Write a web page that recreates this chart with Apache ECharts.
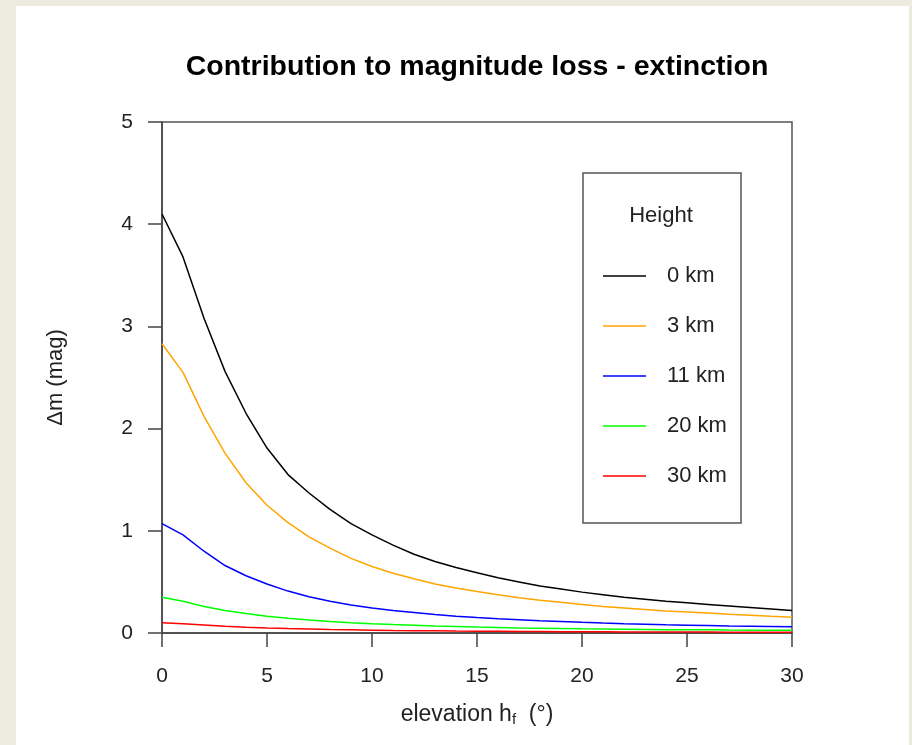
<!DOCTYPE html>
<html>
<head>
<meta charset="utf-8">
<script src="https://cdn.jsdelivr.net/npm/echarts@6/dist/echarts.min.js"></script>
<style>
html,body{margin:0;padding:0;background:#edeae0;width:912px;height:745px;overflow:hidden;}
#panel{position:absolute;left:16px;top:6px;width:893px;height:739px;background:#ffffff;}
#chart{position:absolute;left:0;top:0;width:912px;height:745px;}
</style>
</head>
<body>
<div id="panel"></div>
<div id="chart"></div>
<script>
// elevation (degrees)
const elevation = [0,1,2,3,4,5,6,7,8,9,10,11,12,13,14,15,16,17,18,19,20,21,22,23,24,25,26,27,28,29,30];
const seriesNames = ['0 km','3 km','11 km','20 km','30 km'];
const h0km = [4.10,3.68,3.08,2.56,2.15,1.81,1.55,1.37,1.21,1.07,0.96,0.86,0.77,0.70,0.64,0.59,0.54,0.50,0.46,0.43,0.40,0.375,0.35,0.33,0.31,0.295,0.28,0.265,0.25,0.235,0.22];
const h3km = [2.83,2.55,2.12,1.76,1.47,1.25,1.08,0.94,0.83,0.73,0.65,0.585,0.53,0.48,0.44,0.405,0.375,0.345,0.32,0.30,0.28,0.26,0.245,0.23,0.215,0.205,0.195,0.183,0.173,0.163,0.155];
const h11km = [1.07,0.96,0.80,0.66,0.56,0.48,0.41,0.355,0.31,0.275,0.245,0.22,0.20,0.18,0.165,0.152,0.14,0.13,0.12,0.112,0.104,0.097,0.091,0.086,0.081,0.077,0.073,0.069,0.066,0.063,0.06];
const h20km = [0.35,0.31,0.26,0.22,0.19,0.165,0.145,0.128,0.113,0.10,0.09,0.082,0.075,0.068,0.063,0.058,0.054,0.05,0.047,0.044,0.041,0.039,0.037,0.035,0.033,0.032,0.031,0.029,0.028,0.027,0.026];
const h30km = [0.10,0.09,0.078,0.066,0.057,0.05,0.044,0.039,0.034,0.031,0.028,0.025,0.023,0.021,0.019,0.018,0.017,0.015,0.014,0.013,0.012,0.0115,0.011,0.0105,0.01,0.0095,0.009,0.0085,0.008,0.0075,0.007];
const xTicks = [0,5,10,15,20,25,30];
const yTicks = [0,1,2,3,4,5];

const colors = ['#000000','#ffa500','#0000ff','#00ff00','#ff0000'];
const allValues = [h0km,h3km,h11km,h20km,h30km];
const FONT = '"Liberation Sans", Arial, Helvetica, sans-serif';

const chart = echarts.init(document.getElementById('chart'), null, {renderer:'canvas'});
const series = seriesNames.map((name,i)=>({
  name: name,
  type: 'line',
  data: elevation.map((x,j)=>[x, allValues[i][j]]),
  symbol: 'none',
  smooth: false,
  lineStyle: {color: colors[i], width: 1.5},
  itemStyle: {color: colors[i]},
  emphasis: {disabled: true},
  animation: false
}));

chart.setOption({
  backgroundColor: 'transparent',
  animation: false,
  title: {
    text: 'Contribution to magnitude loss - extinction',
    left: 472, top: 48, textAlign: 'center',
    textStyle: {fontFamily: FONT, fontWeight: 'bold', fontSize: 28.5, color: '#000'}
  },
  grid: {
    left: 162, right: 120, top: 122, bottom: 112,
    show: true, borderColor: '#555', borderWidth: 1.5, backgroundColor: 'transparent'
  },
  legend: {
    orient: 'vertical',
    left: 603, top: 264, z: 10, padding: 0,
    icon: 'rect', itemWidth: 43, itemHeight: 1.5,
    itemGap: 26,
    data: seriesNames,
    selectedMode: false,
    textStyle: {fontFamily: FONT, fontSize: 22, color: '#222', lineHeight: 24, padding: [0,0,0,16]}
  },
  xAxis: {
    type: 'value', min: xTicks[0], max: xTicks[xTicks.length-1], interval: 5,
    name: 'elevation h{sub|f}  (°)',
    nameLocation: 'middle', nameGap: 70,
    nameTextStyle: {fontFamily: FONT, fontSize: 23, color: '#222',
      rich: {sub: {fontFamily: FONT, fontSize: 15, color: '#222', verticalAlign: 'bottom', padding: [9,0,0,0]}}},
    axisLine: {show: true, lineStyle: {color: '#444', width: 1.5}},
    axisTick: {show: true, inside: false, length: 14, lineStyle: {color: '#444', width: 1.5}},
    axisLabel: {fontFamily: FONT, fontSize: 21, color: '#222', margin: 33},
    splitLine: {show: false}
  },
  yAxis: {
    type: 'value', min: yTicks[0], max: yTicks[yTicks.length-1], interval: 1,
    name: 'Δm (mag)',
    nameLocation: 'middle', nameGap: 95, nameRotate: 90,
    nameTextStyle: {fontFamily: FONT, fontSize: 22, color: '#222'},
    axisLine: {show: true, lineStyle: {color: '#444', width: 1.5}},
    axisTick: {show: true, inside: false, length: 14, lineStyle: {color: '#444', width: 1.5}},
    axisLabel: {fontFamily: FONT, fontSize: 21, color: '#222', margin: 29},
    splitLine: {show: false}
  },
  graphic: [
    {type: 'rect', shape: {x: 583, y: 173, width: 158, height: 350},
     style: {fill: '#fff', stroke: '#555', lineWidth: 1.5}, z: 1},
    {type: 'text', z: 11,
     style: {text: 'Height', x: 661, y: 216, align: 'center', verticalAlign: 'middle',
             fontFamily: FONT, fontSize: 22, fill: '#222'}}
  ],
  series: series
});
</script>
</body>
</html>
